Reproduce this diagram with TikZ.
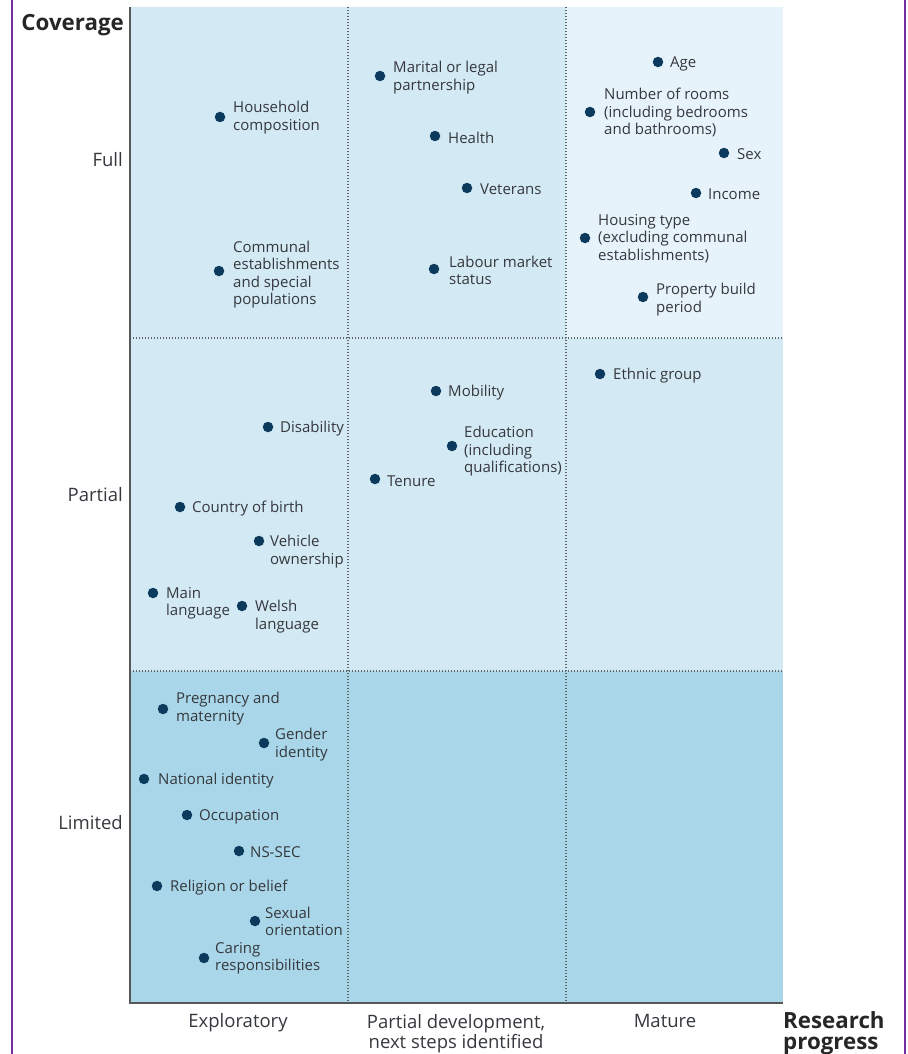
\documentclass[tikz,border=0pt]{standalone}
\usepackage{fontspec}
\setmainfont{Open Sans}
\definecolor{lightc}{HTML}{D3E9F4}
\definecolor{lightestc}{HTML}{E7F3FA}
\definecolor{darkc}{HTML}{A9D7E9}
\definecolor{dotc}{HTML}{0B3A5C}
\definecolor{labc}{HTML}{35383D}
\definecolor{axc}{HTML}{575757}
\definecolor{gridc}{HTML}{5F6468}
\definecolor{purplec}{HTML}{7030A0}
\newcommand\labfont{\fontsize{15}{17.5}\selectfont}
\newcommand\catfont{\fontsize{18.5}{20}\selectfont}
\newcommand\ttlfont{\fontsize{22.3}{21}\selectfont\bfseries}
\tikzset{
  dot/.style={circle, fill=dotc, inner sep=0pt, minimum size=10.5pt},
  lab/.style={anchor=west, align=left, inner sep=0pt, font=\labfont, text=labc, yshift=-1.5pt},
  cat/.style={inner sep=0pt, font=\catfont, text=labc},
  ttl/.style={inner sep=0pt, font=\ttlfont, text=black!85},
  gridline/.style={draw=gridc, line width=1.3pt, dash pattern=on 1.3pt off 1.7pt},
  axisline/.style={draw=axc, line width=2.5pt},
  border/.style={draw=purplec, line width=2.5pt}
}
\begin{document}
\begin{tikzpicture}[x=1pt,y=-1pt]
\useasboundingbox (0,0) rectangle (907,1054);
% borders
\draw[border] (12,0) -- (12,1054);
\draw[border] (905,0) -- (905,1054);
% background regions
\fill[lightc] (130,7) rectangle (566,671);
\fill[lightestc] (566,7) rectangle (783,338);
\fill[lightc] (566,338) rectangle (783,671);
\fill[darkc] (130,671) rectangle (783,1003);
% grid
\coordinate (c1t) at (348,7); \coordinate (c1b) at (348,1003);
\coordinate (c2t) at (566,7); \coordinate (c2b) at (566,1003);
\coordinate (r1l) at (130,338); \coordinate (r1r) at (783,338);
\coordinate (r2l) at (130,671); \coordinate (r2r) at (783,671);
\draw[gridline] (c1t) -- (c1b);
\draw[gridline] (c2t) -- (c2b);
\draw[gridline] (r1l) -- (r1r);
\draw[gridline] (r2l) -- (r2r);
% axes
\coordinate (ytop) at (130,7);
\coordinate (orig) at (130,1003);
\coordinate (xend) at (783,1003);
\draw[axisline] (ytop) -- (orig) -- (xend);
% axis titles
\node[ttl, anchor=base east] (tcov) at (124,31) {Coverage};
\node[ttl, anchor=north west, align=left] (tres) at (783,1011) {Research\\progress};
\node[cat, anchor=base east] (yfull) at (123,166) {Full};
\node[cat, anchor=base east] (ypart) at (123,501) {Partial};
\node[cat, anchor=base east] (ylim) at (123,829) {Limited};
\node[cat, anchor=base] (xexp) at (238,1027) {Exploratory};
\node[cat, anchor=north, align=center] (xpar) at (456,1014) {Partial development,\\next steps identified};
\node[cat, anchor=base] (xmat) at (665,1027) {Mature};
% Full row
\node[dot] (d1) at (220,117) {};  \node[lab] (l1) at (233,116) {Household\\composition};
\node[dot] (d2) at (219,271) {};  \node[lab] (l2) at (233,273) {Communal\\establishments\\and special\\populations};
\node[dot] (d3) at (380,76) {};   \node[lab] (l3) at (393,76) {Marital or legal\\partnership};
\node[dot] (d4) at (435,136) {};  \node[lab] (l4) at (448,136) {Health};
\node[dot] (d5) at (467,188) {};  \node[lab] (l5) at (480,188) {Veterans};
\node[dot] (d6) at (434,269) {};  \node[lab] (l6) at (449,269) {Labour market\\status};
\node[dot] (d7) at (658,62) {};   \node[lab] (l7) at (670,62) {Age};
\node[dot] (d8) at (590,112) {};  \node[lab] (l8) at (604,111) {Number of rooms\\(including bedrooms\\and bathrooms)};
\node[dot] (d9) at (724,153) {};  \node[lab] (l9) at (737,153) {Sex};
\node[dot] (d10) at (696,193) {}; \node[lab] (l10) at (708,193) {Income};
\node[dot] (d11) at (585,238) {}; \node[lab] (l11) at (598,237) {Housing type\\(excluding communal\\establishments)};
\node[dot] (d12) at (643,297) {}; \node[lab] (l12) at (656,298) {Property build\\period};
% Partial row
\node[dot] (d13) at (600,374) {}; \node[lab] (l13) at (613,374) {Ethnic group};
\node[dot] (d14) at (436,391) {}; \node[lab] (l14) at (448,391) {Mobility};
\node[dot] (d15) at (452,446) {}; \node[lab] (l15) at (464,450) {Education\\(including\\qualifications)};
\node[dot] (d16) at (375,479) {}; \node[lab] (l16) at (387,480) {Tenure};
\node[dot] (d17) at (268,427) {}; \node[lab] (l17) at (280,427) {Disability};
\node[dot] (d18) at (180,507) {}; \node[lab] (l18) at (192,507) {Country of birth};
\node[dot] (d19) at (259,541) {}; \node[lab] (l19) at (270,550) {Vehicle\\ownership};
\node[dot] (d20) at (153,593) {}; \node[lab] (l20) at (166,602) {Main\\language};
\node[dot] (d21) at (242,606) {}; \node[lab] (l21) at (255,615) {Welsh\\language};
% Limited row
\node[dot] (d22) at (163,709) {}; \node[lab] (l22) at (176,707) {Pregnancy and\\maternity};
\node[dot] (d23) at (264,743) {}; \node[lab] (l23) at (275,743) {Gender\\identity};
\node[dot] (d24) at (144,779) {}; \node[lab] (l24) at (158,779) {National identity};
\node[dot] (d25) at (187,815) {}; \node[lab] (l25) at (199,815) {Occupation};
\node[dot] (d26) at (239,851) {}; \node[lab] (l26) at (250,851) {NS-SEC};
\node[dot] (d27) at (157,886) {}; \node[lab] (l27) at (170,886) {Religion or belief};
\node[dot] (d28) at (255,921) {}; \node[lab] (l28) at (265,920) {Sexual\\orientation};
\node[dot] (d29) at (204,958) {}; \node[lab] (l29) at (215,957) {Caring\\responsibilities};
\end{tikzpicture}
\end{document}
